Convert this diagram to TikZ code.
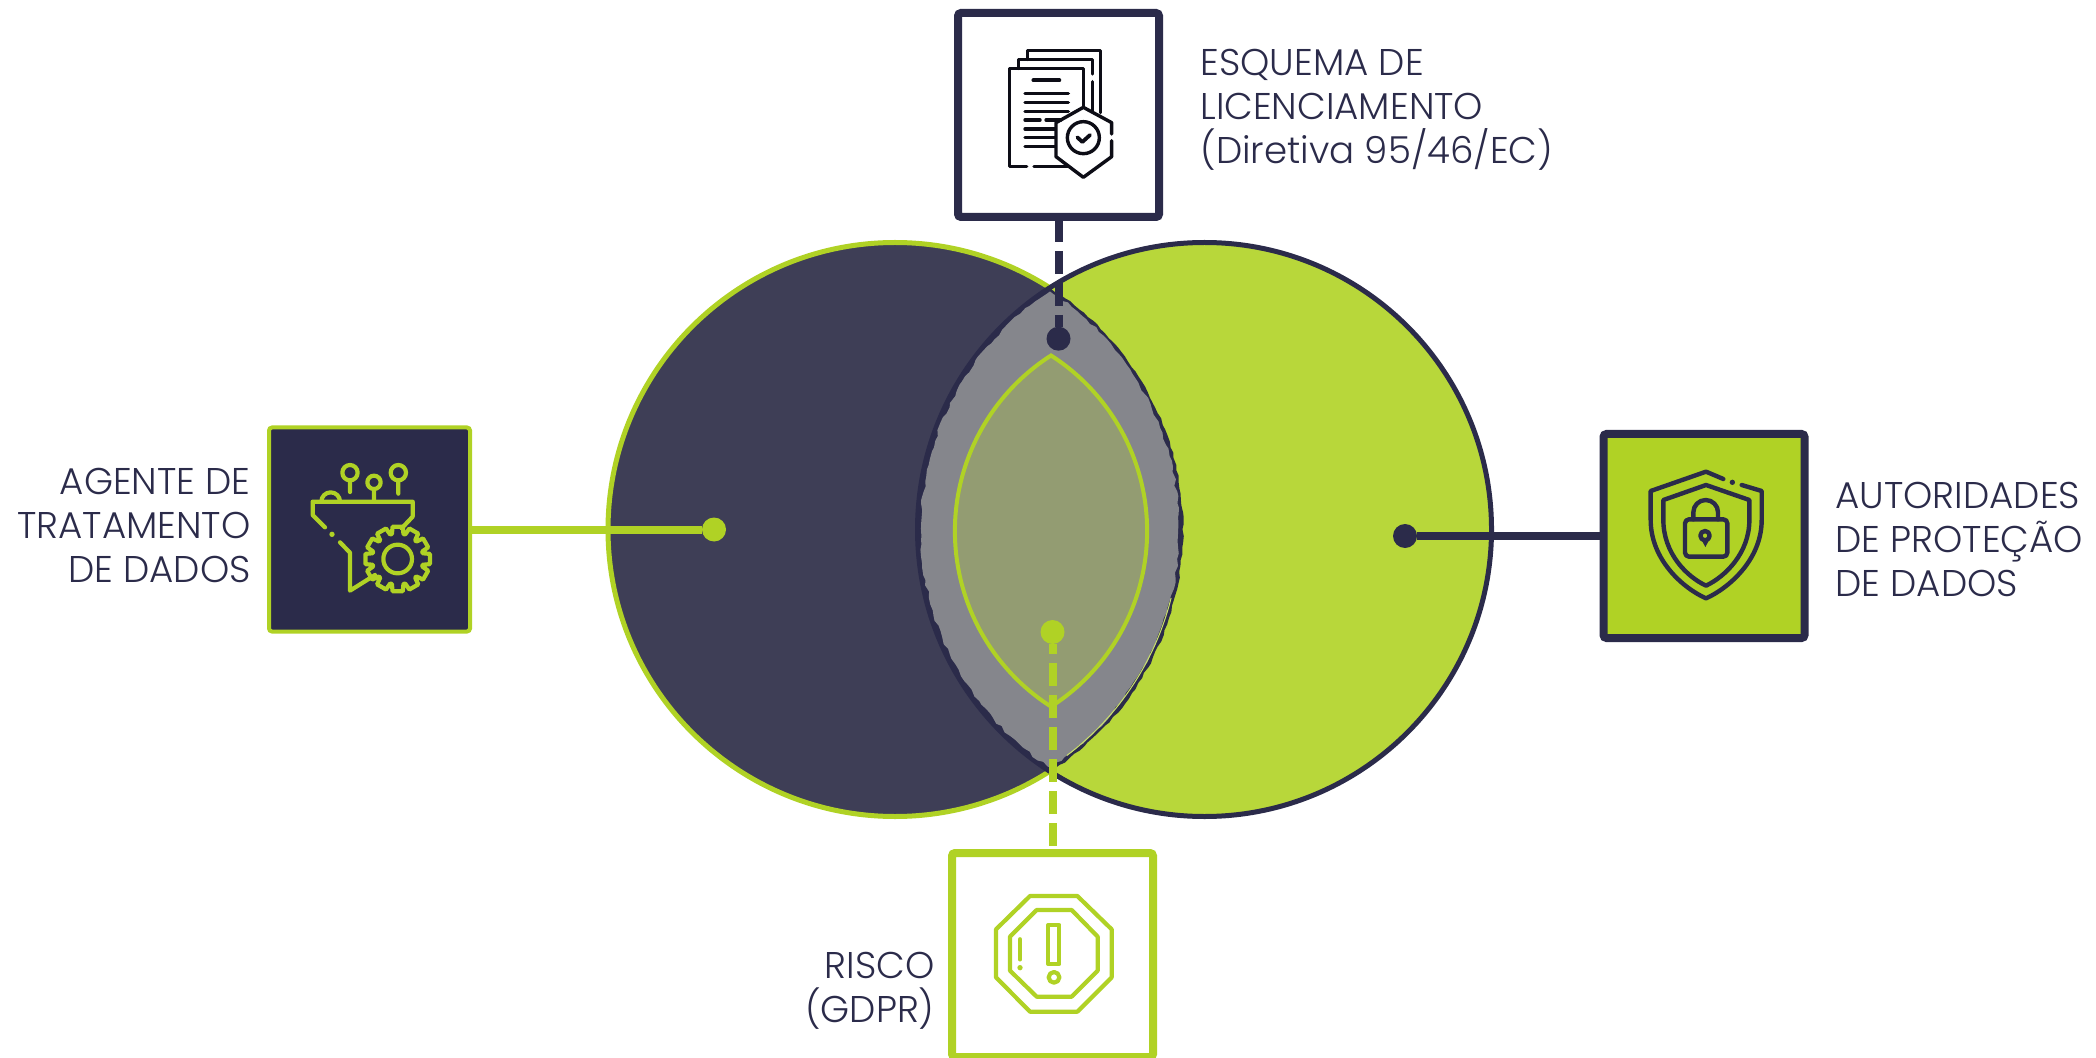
\documentclass[tikz,border=0pt]{standalone}
\usepackage{fontspec}
\setmainfont{Poppins}[UprightFont=* Light]
\usetikzlibrary{decorations.pathmorphing}
\definecolor{navy}{HTML}{2B2B4A}
\definecolor{navysoft}{HTML}{3E3E56}
\definecolor{limeA}{HTML}{B0D225}
\definecolor{limeB}{HTML}{B8D73A}
\definecolor{lensgrey}{HTML}{85868C}
\definecolor{lensolive}{HTML}{939C72}
\tikzset{
  iconbox/.style={draw,minimum width=100.5pt,minimum height=102pt,inner sep=0pt,outer sep=0pt,rounded corners=1.5pt},
  dotmark/.style={circle,inner sep=0pt,outer sep=0pt,minimum size=12pt},
  lab/.style={text=navy,align=#1,font=\fontsize{18.6}{22}\selectfont,inner sep=0pt},
  link/.style={line width=4pt},
  dashlink/.style={line width=4pt,dash pattern=on 11.5pt off 4.5pt},
  ico/.style={line width=#1,line cap=round,line join=round},
  zoomed/.style={x=0.16667pt,y=-0.16667pt}
}
\begin{document}
\begin{tikzpicture}[x=0.5pt,y=-0.5pt]
\useasboundingbox (0,0) rectangle (2096,1058);
\pgfmathsetseed{11}
% circles
\draw[fill=navysoft,draw=limeA,line width=2.5pt] (895,529.5) circle[radius=287];
\draw[fill=limeB,draw=navy,line width=2.5pt] (1204.5,529.5) circle[radius=287];
% outer lens: dark rim, then rough grey
\fill[navy,decorate,decoration={random steps,segment length=3pt,amplitude=.45pt}] (1050,288) arc[start angle=237.6,end angle=122.4,radius=286.5] arc[start angle=57.6,end angle=-57.6,radius=286.5] -- cycle;
\fill[lensgrey,decorate,decoration={random steps,segment length=3pt,amplitude=.7pt}] (1050,291.5) arc[start angle=236.94,end angle=123.06,radius=284] arc[start angle=56.94,end angle=-56.94,radius=284] -- cycle;
\draw[limeB!75!white,line width=.5pt] (896.5,529.5) ++(14:283) arc[start angle=14,end angle=53,radius=283];
% inner lens
\draw[fill=lensolive,draw=limeA,line width=2pt,line join=miter] (1051,355.5) arc[start angle=237.4,end angle=122.6,radius=208.4] arc[start angle=57.4,end angle=-57.4,radius=208.4] -- cycle;
% dots
\node[dotmark,fill=limeA] (leftdot) at (714,529.5) {};
\node[dotmark,fill=navy] (rightdot) at (1405,536) {};
\node[dotmark,fill=navy] (topdot) at (1058.5,338.7) {};
\node[dotmark,fill=limeA] (botdot) at (1052.5,632) {};
% boxes
\node[iconbox,draw=navy,fill=white,line width=4pt] (topbox) at (1058.5,115) {};
\node[iconbox,draw=limeA,fill=navy,line width=2pt] (leftbox) at (369.5,529.5) {};
\node[iconbox,draw=navy,fill=limeA,line width=4pt] (rightbox) at (1704,536) {};
\node[iconbox,draw=limeA,fill=white,line width=4pt] (botbox) at (1052.5,955) {};
% connectors
\draw[link,limeA] (leftbox) -- (leftdot);
\draw[link,navy] (rightdot) -- (rightbox);
\draw[dashlink,navy,dash phase=15pt] (topbox.south) -- (topdot);
\draw[dashlink,limeA,dash phase=12.5pt] (botbox.north) -- (botdot);
% labels
\node[lab=left,anchor=west] (toplabel) at (1200,109.5) {ESQUEMA DE\\LICENCIAMENTO\\(Diretiva 95/46/EC)};
\node[lab=right,anchor=east] (leftlabel) at (251,525) {AGENTE DE\\TRATAMENTO\\DE DADOS};
\node[lab=left,anchor=west] (rightlabel) at (1835,539) {AUTORIDADES\\DE PROTEÇÃO\\DE DADOS};
\node[lab=right,anchor=east] (botlabel) at (935,991) {RISCO\\(GDPR)};
% document icon
\begin{scope}[shift={(940,0)},zoomed,ico=1.7pt,navy!30!black]
\draw (260,500) -- (208,500) -- (208,205) -- (430,205) -- (430,322);
\draw (282,500) -- (385,500);
\draw (235,205) -- (235,178) -- (457,178) -- (457,222);
\draw (457,245) -- (457,335);
\draw (262,178) -- (262,152) -- (482,152) -- (482,338);
\draw[line width=1.9pt] (280,241) -- (358,241);
\foreach \yy in {281,307,334} \draw (255,\yy) -- (385,\yy);
\draw (255,360) -- (300,360) (318,360) -- (362,360);
\foreach \yy in {387,413,439} \draw (255,\yy) -- (345,\yy);
\draw (515,402) -- (515,368) -- (430,322) -- (348,368) -- (348,470) -- (430,532) -- (515,470) -- (515,422);
\draw (430,413) circle[radius=48];
\draw[line width=1.9pt] (412,412) -- (427,426) -- (450,405);
\end{scope}
% funnel and gear icon
\begin{scope}[shift={(260,420)},zoomed,ico=2.1pt,limeA]
\draw (195,322) -- (158,285) -- (158,245) -- (458,245) -- (458,290) -- (425,325);
\fill (216,343) circle[radius=8];
\draw (240,367) -- (270,398) -- (270,512) -- (345,465);
\draw (184,245) arc[start angle=180,end angle=360,radius=28];
\draw (270,158) circle[radius=23] (270,181) -- (270,216);
\draw (342,187) circle[radius=20] (342,207) -- (342,245);
\draw (415,158) circle[radius=23] (415,181) -- (415,221);
\draw (413,417) circle[radius=43];
\begin{scope}[shift={(413,417)}]
\draw (-9:98) \foreach \a in {0,30,...,330} { -- (\a-9:98) -- (\a+9:98) -- (\a+13:77) -- (\a+17:77) } -- cycle;
\end{scope}
\end{scope}
% shield icon
\begin{scope}[shift={(1590,420)},zoomed,ico=2.2pt,navy]
\draw (400,177) -- (348,155) -- (182,213) -- (182,300) .. controls (182,420) and (280,505) .. (348,535) .. controls (415,505) and (515,420) .. (515,300) -- (515,213) -- (455,195);
\fill (427,187) circle[radius=8];
\draw (348,195) -- (220,240) -- (220,300) .. controls (220,400) and (290,470) .. (348,497) .. controls (405,470) and (478,400) .. (478,300) -- (478,240) -- cycle;
\draw[rounded corners=2pt] (285,298) rectangle (412,410);
\draw (310,298) -- (310,277) arc[start angle=180,end angle=360,radius=37] -- (384,298);
\draw (345,347) circle[radius=14];
\fill (332,355) -- (346,381) -- (360,355) -- cycle;
\end{scope}
% stop icon
\begin{scope}[shift={(940,840)},zoomed,ico=2.1pt,limeA]
\draw (270,168) -- (412,168) -- (515,268) -- (515,412) -- (412,515) -- (270,515) -- (168,412) -- (168,268) -- cycle;
\draw (290,210) -- (395,210) -- (473,290) -- (473,392) -- (395,470) -- (290,470) -- (210,392) -- (210,290) -- cycle;
\draw (325,255) rectangle (358,372);
\draw (342,412) circle[radius=16];
\draw[line width=2.2pt] (240,298) -- (240,358);
\fill (240,383) circle[radius=8];
\end{scope}
\end{tikzpicture}
\end{document}
